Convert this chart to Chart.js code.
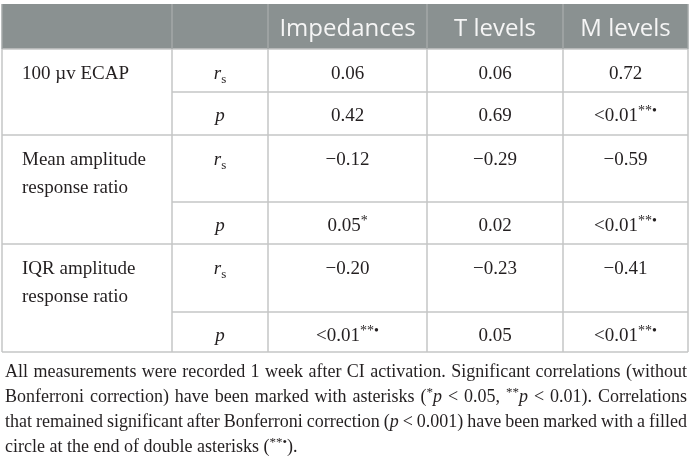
<!DOCTYPE html>
<html>
<head>
<meta charset="utf-8">
<script src="https://cdn.jsdelivr.net/npm/chart.js@4.4.1/dist/chart.umd.min.js"></script>
<style>
  html, body { margin: 0; padding: 0; background: #ffffff; }
  #wrap { width: 694px; height: 459px; }
</style>
</head>
<body>
<div id="wrap"><canvas id="corrTable" width="694" height="459"></canvas></div>
<script>
// table content
const columns = ['Impedances', 'T levels', 'M levels'];
const measures = [
  ['100 \u00b5v ECAP'],
  ['Mean amplitude', 'response ratio'],
  ['IQR amplitude', 'response ratio']
];
const rsValues = [
  [0.06, 0.06, 0.72],
  [-0.12, -0.29, -0.59],
  [-0.20, -0.23, -0.41]
];
const pValues = [
  ['0.42', '0.69', '<0.01'],
  ['0.05', '0.02', '<0.01'],
  ['<0.01', '0.05', '<0.01']
];
const pMarks = [
  ['', '', '**\u2022'],
  ['*', '', '**\u2022'],
  ['**\u2022', '', '**\u2022']
];
// [..] = superscript, {..} = italic
const footnote = [
  'All measurements were recorded 1 week after CI activation. Significant correlations (without',
  'Bonferroni correction) have been marked with asterisks ([*]{p} < 0.05, [**]{p} < 0.01). Correlations',
  'that remained significant after Bonferroni correction ({p} < 0.001) have been marked with a filled',
  'circle at the end of double asterisks ([**\u2022]).'
];

// layout (scale units == pixels)
const colEdges = [2, 172, 268, 427, 563, 688];
const headerTop = 4;
const groupEdges = [49, 135, 244, 352];
const splitRows = [92, 202, 312];
const footBase = [377, 402, 427, 452];
const footLeft = 5, footRight = 687;

const SERIF = '"Liberation Serif", "DejaVu Serif", serif';
const SANS = '"Open Sans", "Noto Sans", sans-serif';
const BODY = 19;
const FOOT = 18;

function fontFor(style, size) {
  if (style === 'i') return `italic ${size}px ${SERIF}`;
  if (style === 'sup') return `${Math.round(size * 0.72)}px ${SERIF}`;
  if (style === 'sub') return `${Math.round(size * 0.66)}px ${SERIF}`;
  return `${size}px ${SERIF}`;
}
function runsWidth(ctx, runs, size) {
  let w = 0;
  runs.forEach(r => { ctx.font = fontFor(r.style, size); w += ctx.measureText(r.text).width; });
  return w;
}
function drawRuns(ctx, runs, x, base, size) {
  runs.forEach(r => {
    ctx.font = fontFor(r.style, size);
    let dy = 0;
    if (r.style === 'sup') dy = -size * 0.33;
    if (r.style === 'sub') dy = size * 0.22;
    ctx.fillText(r.text, x, base + dy);
    x += ctx.measureText(r.text).width;
  });
}
function parseWord(word) {
  return word.split(/(\[[^\]]*\]|\{[^}]*\})/).filter(s => s.length).map(s => {
    if (s[0] === '[') return { text: s.slice(1, -1), style: 'sup' };
    if (s[0] === '{') return { text: s.slice(1, -1), style: 'i' };
    return { text: s, style: '' };
  });
}
const fmt = v => (v < 0 ? '\u2212' : '') + Math.abs(v).toFixed(2);

const tablePlugin = {
  id: 'tablePlugin',
  afterDraw(chart) {
    const { ctx, scales: { x, y } } = chart;
    const px = v => x.getPixelForValue(v);
    const py = v => y.getPixelForValue(v);
    const left = px(colEdges[0]), right = px(colEdges[colEdges.length - 1]);
    const top = py(headerTop), hBot = py(groupEdges[0]), bottom = py(groupEdges[groupEdges.length - 1]);
    ctx.save();

    // header band
    ctx.fillStyle = '#8a9191';
    ctx.fillRect(left, top, right - left, hBot - top);

    // grid
    ctx.lineWidth = 1.5;
    ctx.strokeStyle = '#c4c6c6';
    const hline = (yv, x0) => { ctx.beginPath(); ctx.moveTo(x0, py(yv)); ctx.lineTo(right, py(yv)); ctx.stroke(); };
    groupEdges.forEach(g => hline(g, left));
    splitRows.forEach(s => hline(s, px(colEdges[1])));
    colEdges.forEach(c => {
      ctx.strokeStyle = '#c4c6c6';
      ctx.beginPath(); ctx.moveTo(px(c), hBot); ctx.lineTo(px(c), bottom); ctx.stroke();
      ctx.strokeStyle = '#a3a9a9';
      ctx.beginPath(); ctx.moveTo(px(c), top); ctx.lineTo(px(c), hBot); ctx.stroke();
    });

    // header text
    ctx.fillStyle = '#f5f5f5';
    ctx.font = `24px ${SANS}`;
    ctx.textAlign = 'center';
    ctx.textBaseline = 'alphabetic';
    columns.forEach((c, j) => {
      ctx.fillText(c, (px(colEdges[j + 2]) + px(colEdges[j + 3])) / 2, py(36));
    });

    // body
    ctx.textAlign = 'left';
    ctx.fillStyle = '#231f20';
    const centered = (runs, xa, xb, base) => {
      const w = runsWidth(ctx, runs, BODY);
      drawRuns(ctx, runs, (px(xa) + px(xb)) / 2 - w / 2, base, BODY);
    };
    measures.forEach((lines, i) => {
      const rsBase = py(groupEdges[i] + 30);
      const pBase = py(splitRows[i] + 29);
      lines.forEach((t, k) => drawRuns(ctx, [{ text: t, style: '' }], px(22), py(groupEdges[i] + 30 + k * 28), BODY));
      centered([{ text: 'r', style: 'i' }, { text: 's', style: 'sub' }], colEdges[1], colEdges[2], rsBase);
      centered([{ text: 'p', style: 'i' }], colEdges[1], colEdges[2], pBase);
      columns.forEach((c, j) => {
        centered([{ text: fmt(rsValues[i][j]), style: '' }], colEdges[j + 2], colEdges[j + 3], rsBase);
        centered([{ text: pValues[i][j], style: '' }, { text: pMarks[i][j], style: 'sup' }],
          colEdges[j + 2], colEdges[j + 3], pBase);
      });
    });

    // footnote, justified
    footnote.forEach((line, li) => {
      const words = line.split(' ').map(parseWord);
      const widths = words.map(w => runsWidth(ctx, w, FOOT));
      const total = widths.reduce((a, b) => a + b, 0);
      ctx.font = fontFor('', FOOT);
      let gap = ctx.measureText(' ').width;
      if (li < footnote.length - 1) gap = (px(footRight) - px(footLeft) - total) / (words.length - 1);
      let xc = px(footLeft);
      words.forEach((w, k) => {
        drawRuns(ctx, w, xc, py(footBase[li]), FOOT);
        xc += widths[k] + gap;
      });
    });
    ctx.restore();
  }
};

new Chart(document.getElementById('corrTable'), {
  type: 'scatter',
  data: { datasets: [{ data: [], pointRadius: 0 }] },
  options: {
    responsive: false,
    animation: false,
    devicePixelRatio: 1,
    layout: { padding: 0 },
    plugins: { legend: { display: false }, tooltip: { enabled: false } },
    scales: {
      x: { type: 'linear', display: false, min: 0, max: 694 },
      y: { type: 'linear', display: false, min: 0, max: 459, reverse: true }
    }
  },
  plugins: [tablePlugin]
});
</script>
</body>
</html>
